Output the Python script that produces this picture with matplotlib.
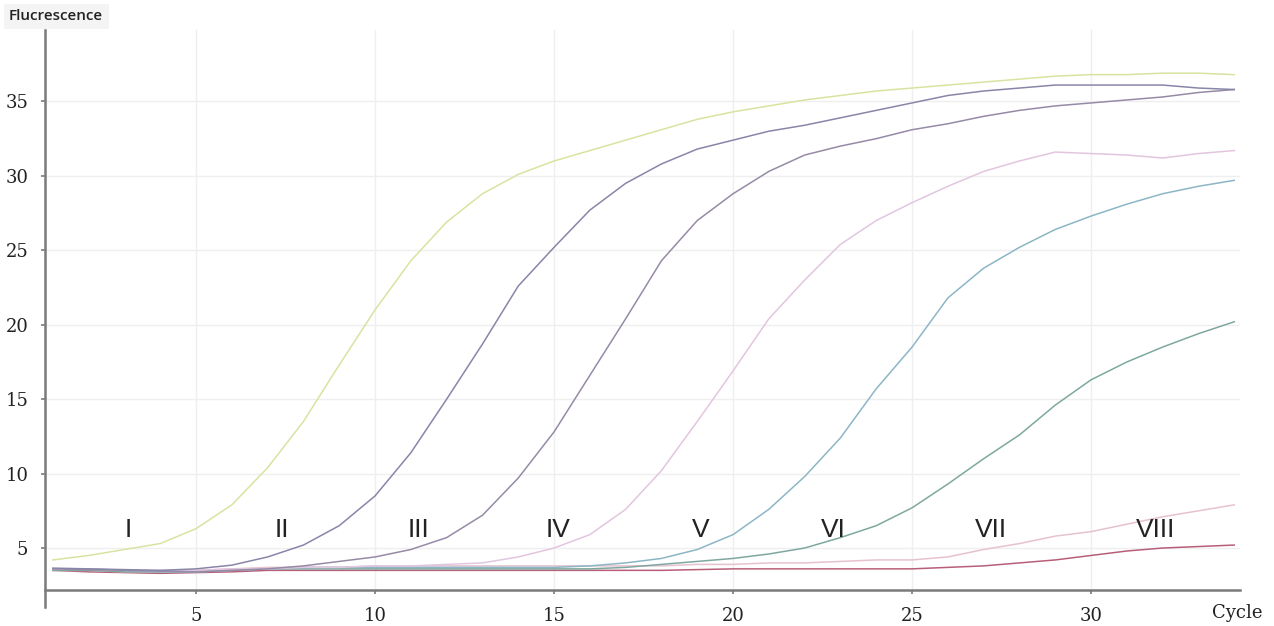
import numpy as np
import matplotlib.pyplot as plt

cycles = np.arange(1, 35)

# fluorescence readings per dilution, cycles 1..34
curve_I = [4.2, 4.5, 4.9, 5.3, 6.3, 7.9, 10.4, 13.5, 17.3, 21.0, 24.3, 26.9, 28.8, 30.1,
           31.0, 31.7, 32.4, 33.1, 33.8, 34.3, 34.7, 35.1, 35.4, 35.7, 35.9, 36.1, 36.3,
           36.5, 36.7, 36.8, 36.8, 36.9, 36.9, 36.8]
curve_II = [3.65, 3.6, 3.55, 3.5, 3.6, 3.85, 4.4, 5.2, 6.5, 8.5, 11.4, 15.0, 18.7, 22.6,
            25.2, 27.7, 29.5, 30.8, 31.8, 32.4, 33.0, 33.4, 33.9, 34.4, 34.9, 35.4, 35.7,
            35.9, 36.1, 36.1, 36.1, 36.1, 35.9, 35.8]
curve_III = [3.6, 3.55, 3.5, 3.45, 3.4, 3.5, 3.6, 3.8, 4.1, 4.4, 4.9, 5.7, 7.2, 9.7,
             12.8, 16.6, 20.4, 24.3, 27.0, 28.8, 30.3, 31.4, 32.0, 32.5, 33.1, 33.5, 34.0,
             34.4, 34.7, 34.9, 35.1, 35.3, 35.6, 35.8]
curve_IV = [3.6, 3.6, 3.5, 3.5, 3.5, 3.6, 3.6, 3.7, 3.7, 3.8, 3.8, 3.9, 4.0, 4.4,
            5.0, 5.9, 7.6, 10.2, 13.5, 16.9, 20.4, 23.0, 25.4, 27.0, 28.2, 29.3, 30.3,
            31.0, 31.6, 31.5, 31.4, 31.2, 31.5, 31.7]
curve_V = [3.6, 3.6, 3.5, 3.4, 3.4, 3.5, 3.6, 3.7, 3.7, 3.7, 3.7, 3.7, 3.7, 3.7,
           3.7, 3.8, 4.0, 4.3, 4.9, 5.9, 7.6, 9.8, 12.4, 15.7, 18.5, 21.8, 23.8,
           25.2, 26.4, 27.3, 28.1, 28.8, 29.3, 29.7]
curve_VI = [3.5, 3.5, 3.4, 3.4, 3.4, 3.5, 3.6, 3.6, 3.6, 3.6, 3.6, 3.6, 3.6, 3.6,
            3.6, 3.6, 3.7, 3.9, 4.1, 4.3, 4.6, 5.0, 5.7, 6.5, 7.7, 9.3, 11.0,
            12.6, 14.6, 16.3, 17.5, 18.5, 19.4, 20.2]
curve_VII = [3.5, 3.5, 3.4, 3.4, 3.5, 3.6, 3.7, 3.7, 3.7, 3.8, 3.8, 3.8, 3.8, 3.8,
             3.8, 3.8, 3.8, 3.8, 3.9, 3.9, 4.0, 4.0, 4.1, 4.2, 4.2, 4.4, 4.9,
             5.3, 5.8, 6.1, 6.6, 7.1, 7.5, 7.9]
curve_VIII = [3.5, 3.4, 3.35, 3.3, 3.35, 3.4, 3.5, 3.5, 3.5, 3.5, 3.5, 3.5, 3.5, 3.5,
              3.5, 3.5, 3.5, 3.5, 3.55, 3.6, 3.6, 3.6, 3.6, 3.6, 3.6, 3.7, 3.8,
              4.0, 4.2, 4.5, 4.8, 5.0, 5.1, 5.2]

series = [curve_I, curve_II, curve_III, curve_IV, curve_V, curve_VI, curve_VII, curve_VIII]
colors = ['#d9e3a0', '#8886a8', '#968aa6', '#e2c6df', '#8cb6c6', '#7ea89f', '#e6c2cf', '#b85e78']

labels = ['I', 'II', 'III', 'IV', 'V', 'VI', 'VII', 'VIII']
label_x = [3.1, 7.4, 11.2, 15.1, 19.1, 22.8, 27.2, 31.8]
label_y = 6.2

xticks = [5, 10, 15, 20, 25, 30]
yticks = [5, 10, 15, 20, 25, 30, 35]

fig = plt.figure(figsize=(12.74, 6.26), dpi=100)
ax = fig.add_axes([0.0353, 0.0575, 0.938, 0.8946])

for vals, c in zip(series[::-1], colors[::-1]):
    ax.plot(cycles, vals, color=c, lw=1.1)

for lab, lx in zip(labels, label_x):
    ax.text(lx, label_y, lab, ha='center', va='center', fontsize=19,
            family='Liberation Sans', color='#222222')

ax.set_xlim(0.78, 34.16)
ax.set_ylim(2.18, 39.8)
ax.set_xticks(xticks)
ax.set_yticks(yticks)
ax.grid(color='#efefef', lw=1)
ax.set_axisbelow(True)

for s in ['top', 'right']:
    ax.spines[s].set_visible(False)
for s in ['left', 'bottom']:
    ax.spines[s].set_color('#7a7a7a')
    ax.spines[s].set_linewidth(1.8)
ax.spines['left'].set_bounds(1.05, 39.8)

ax.tick_params(length=3, width=1.2, color='#7a7a7a', labelsize=13, pad=9)
for t in ax.get_xticklabels() + ax.get_yticklabels():
    t.set_family('DejaVu Serif')
    t.set_color('#222222')

fig.text(9 / 1274, 1 - 16 / 626, 'Flucrescence', ha='left', va='center', fontsize=11,
         family='Open Sans', weight='semibold', color='#222222',
         bbox=dict(facecolor='#f4f4f4', edgecolor='none', pad=4))
fig.text(1237 / 1274, 1 - 613 / 626, 'Cycle', ha='center', va='center', fontsize=13,
         family='DejaVu Serif', color='#222222')

fig.savefig('out.png', dpi=100)
